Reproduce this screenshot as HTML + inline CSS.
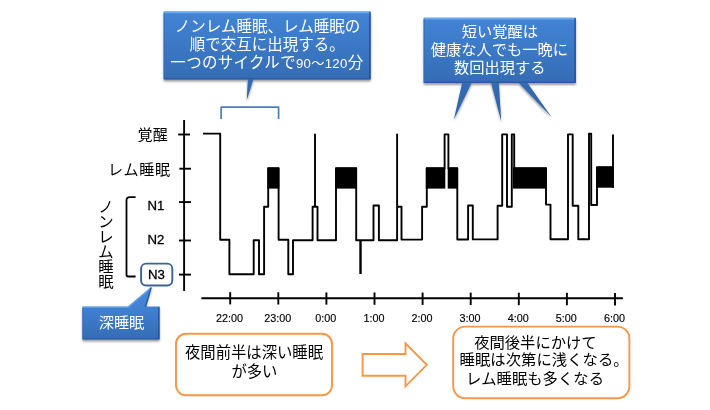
<!DOCTYPE html>
<html lang="ja"><head><meta charset="utf-8"><title>睡眠経過図</title>
<style>
html,body{margin:0;padding:0;background:#fff;}
body{width:710px;height:410px;overflow:hidden;position:relative;font-family:"Liberation Sans","Noto Sans CJK JP",sans-serif;}
svg{position:absolute;left:0;top:0;display:block}
svg text{font-family:"Liberation Sans","Noto Sans CJK JP",sans-serif;}
</style></head><body>
<svg width="710" height="410" viewBox="0 0 710 410">
<defs>
<linearGradient id="bg" x1="0" y1="0" x2="0" y2="1"><stop offset="0" stop-color="#4c8ad6"/><stop offset="1" stop-color="#2e64ad"/></linearGradient>
<linearGradient id="bg1" gradientUnits="userSpaceOnUse" x1="0" y1="12" x2="0" y2="100"><stop offset="0" stop-color="#4384d6"/><stop offset="0.76" stop-color="#346cb4"/><stop offset="1" stop-color="#2e60a6"/></linearGradient>
<linearGradient id="bg2" gradientUnits="userSpaceOnUse" x1="0" y1="17.8" x2="0" y2="121"><stop offset="0" stop-color="#4384d6"/><stop offset="0.63" stop-color="#346cb4"/><stop offset="1" stop-color="#2e60a6"/></linearGradient>
<linearGradient id="bg3" gradientUnits="userSpaceOnUse" x1="0" y1="287" x2="0" y2="339.2"><stop offset="0" stop-color="#4686d8"/><stop offset="0.37" stop-color="#4282d4"/><stop offset="1" stop-color="#346cb4"/></linearGradient>
<filter id="sh" x="-10%" y="-10%" width="130%" height="140%"><feGaussianBlur in="SourceAlpha" stdDeviation="1.2"/><feOffset dx="0.3" dy="1.8"/><feComponentTransfer><feFuncA type="linear" slope="0.4"/></feComponentTransfer><feMerge><feMergeNode/><feMergeNode in="SourceGraphic"/></feMerge></filter>
</defs>
<rect width="710" height="410" fill="#fff"/>

<!-- callout 1 -->
<g filter="url(#sh)"><path d="M163.6,11.5 H370.7 V79.5 H253.4 L246.8,99.9 L247.8,79.5 H163.6 Z" fill="url(#bg1)"/></g>
<path d="M164.1,12.4 H370.2" stroke="#68aaf0" stroke-width="1.7"/>
<path d="M164.2,13 V78.8" stroke="#2f6dc0" stroke-width="1.2" opacity=".8"/>
<path d="M369.9,12 V79" stroke="#22509a" stroke-width="1.6" opacity=".85"/>
<path d="M164,78.8 H370.3" stroke="#2a5aa2" stroke-width="1.4" opacity=".85"/>
<g fill="#fff" font-size="15.5" text-anchor="middle">
<text x="267.5" y="32.1">ノンレム睡眠、レム睡眠の</text>
<text x="267.2" y="49.7">順で交互に出現する。</text>
<text x="266.9" y="68" letter-spacing="0.3">一つのサイクルで<tspan font-size="13.2">90～120</tspan>分</text>
</g>
<!-- callout 2 -->
<g filter="url(#sh)"><path d="M423.6,17.8 H575.9 V82.9 H527.6 L551.5,116.9 L518.8,82.9 H498.9 L501.2,121.2 L491.1,82.9 H471.6 L453.9,119.6 L462.1,82.9 H423.6 Z" fill="url(#bg2)"/></g>
<path d="M424.1,18.6 H575.4" stroke="#68aaf0" stroke-width="1.7"/>
<path d="M424.2,19 V82.4" stroke="#2f6dc0" stroke-width="1.2" opacity=".8"/>
<path d="M575.1,18.2 V82.3" stroke="#22509a" stroke-width="1.6" opacity=".85"/>
<path d="M424,82.2 H575.5" stroke="#2a5aa2" stroke-width="1.4" opacity=".85"/>
<g fill="#fff" font-size="15.25" text-anchor="middle">
<text x="499.8" y="37.2">短い覚醒は</text>
<text x="499.3" y="55.3">健康な人でも一晩に</text>
<text x="499.8" y="73">数回出現する</text>
</g>
<!-- blue bracket -->
<path d="M221.1,119 V107.2 H278.6 V119" fill="none" stroke="#4a7ebb" stroke-width="1.7" stroke-linejoin="round"/>

<!-- axes -->
<g stroke="#000" stroke-width="1.9" fill="none">
<line x1="184.1" x2="184.1" y1="120" y2="290.9"/>
<line x1="178.2" x2="190" y1="134.5" y2="134.5"/><line x1="179.4" x2="191" y1="168.7" y2="168.7"/><line x1="179" x2="191" y1="202.1" y2="202.1"/><line x1="179" x2="191" y1="240.5" y2="240.5"/><line x1="179" x2="191" y1="274.6" y2="274.6"/>
<line x1="201.4" x2="622.9" y1="298.2" y2="298.2"/>
<line x1="230.2" x2="230.2" y1="292.20" y2="304.40"/><line x1="278.3" x2="278.3" y1="292.29" y2="304.52"/><line x1="326.4" x2="326.4" y1="292.38" y2="304.65"/><line x1="374.5" x2="374.5" y1="292.46" y2="304.77"/><line x1="422.6" x2="422.6" y1="292.55" y2="304.90"/><line x1="470.7" x2="470.7" y1="292.64" y2="305.02"/><line x1="518.8" x2="518.8" y1="292.72" y2="305.15"/><line x1="566.9" x2="566.9" y1="292.81" y2="305.27"/><line x1="615.0" x2="615.0" y1="292.90" y2="305.40"/>
</g>
<g font-size="10.8" fill="#000" stroke="#000" stroke-width="0.15"><text x="229.6" y="321.8" text-anchor="middle">22:00</text><text x="277.7" y="321.8" text-anchor="middle">23:00</text><text x="325.8" y="321.8" text-anchor="middle">0:00</text><text x="373.9" y="321.8" text-anchor="middle">1:00</text><text x="422.0" y="321.8" text-anchor="middle">2:00</text><text x="470.1" y="321.8" text-anchor="middle">3:00</text><text x="518.2" y="321.8" text-anchor="middle">4:00</text><text x="566.3" y="321.8" text-anchor="middle">5:00</text><text x="614.4" y="321.8" text-anchor="middle">6:00</text></g>

<!-- y labels -->
<g font-size="15.05" fill="#000">
<text x="137.6" y="140.3">覚醒</text>
<text x="107.9" y="174.6" textLength="62.2" lengthAdjust="spacing">レム睡眠</text>
</g>
<g font-size="13.2" fill="#000" stroke="#000" stroke-width="0.3" text-anchor="middle">
<text x="156" y="210.1">N1</text>
<text x="156" y="244">N2</text>
</g>
<g font-size="15.3" fill="#000" text-anchor="middle">
<text x="106" y="212.3">ノ</text>
<text x="106" y="227.3">ン</text>
<text x="106" y="242.3">レ</text>
<text x="106" y="257.3">ム</text>
<text x="106" y="272.3">睡</text>
<text x="106" y="287.3">眠</text>
</g>
<path d="M135.6,197.2 H130 Q126.5,197.2 126.5,200.5 V274.8 Q126.5,276.5 128.2,276.5 H135.6" fill="none" stroke="#000" stroke-width="1.8"/>
<rect x="141.1" y="263.6" width="31.2" height="21.9" rx="5" ry="5" fill="#fff" stroke="#3a639c" stroke-width="1.9"/>
<text x="156.4" y="279.3" font-size="13.2" text-anchor="middle" fill="#000" stroke="#000" stroke-width="0.3">N3</text>

<!-- hypnogram -->
<rect x="267.4" y="167.6" width="11.9" height="21.0" fill="#000"/><rect x="335.3" y="167.6" width="21.6" height="21.0" fill="#000"/><rect x="425.8" y="167.6" width="19.5" height="21.0" fill="#000"/><rect x="447.7" y="167.6" width="10.2" height="21.0" fill="#000"/><rect x="513" y="167.6" width="34.0" height="21.0" fill="#000"/><rect x="596.2" y="166.7" width="17.5" height="21.0" fill="#000"/>
<path d="M203,133.6 H220.2 V239.8 H229.4 V274.2 H253.7 V240.3 H259 V274.2 H264.1 V206.8 H268.2 V168.2 H278.6 V239.8 H288.3 V274.2 H293 V240.2 H312.6 V206.8 H315 V134.4 V206.8 H317.5 V240.3 H336 V168.2 H356.2 V240.3 H373.5 V205.5 H378.9 V240.2 H397.1 V134.4 V206.8 H401.5 V239.6 H422.1 V206.8 H426.8 V168.2 H444.6 V134.4 H448.4 V168.2 H457.3 V239.5 H468.1 V205.5 H472.8 V239.4 H497.6 V205.8 H502.2 V134.4 H507 V206.8 H511.8 V134.4 H514.2 V168.2 H546 V204.6 H550.5 V239.2 H568 V134.4 H572.7 V205.8 H578.3 V239.2 H589 V133.6 H591.2 V205 H597 V167.29999999999998 H613 M613,187.7 V134.4" fill="none" stroke="#000" stroke-width="1.9" stroke-linejoin="round"/>
<line x1="360.5" x2="360.5" y1="241" y2="274" stroke="#000" stroke-width="2.4"/>

<!-- deep sleep callout -->
<g filter="url(#sh)"><path d="M82.4,306.6 H128 L151.8,286.6 L146,306.6 H159.6 V339.6 H82.4 Z" fill="url(#bg3)"/></g>
<path d="M82.9,307.4 H128.2 L151.2,287.6" stroke="#62a4ec" stroke-width="1.4" opacity=".8" fill="none"/>
<path d="M83,307.7 V339.1" stroke="#2f6dc0" stroke-width="1.2" opacity=".8"/>
<path d="M158.8,307.1 V339.1 M151.1,287.8 L145.4,307" stroke="#22509a" stroke-width="1.5" opacity=".8" fill="none"/>
<path d="M82.8,338.9 H159.3" stroke="#2a5aa2" stroke-width="1.4" opacity=".85"/>
<text x="121.5" y="327.8" font-size="15.2" fill="#fff" text-anchor="middle">深睡眠</text>

<!-- orange boxes -->
<rect x="176" y="333.8" width="156" height="61.5" rx="10" ry="10" fill="#fff" stroke="#f79646" stroke-width="1.9"/>
<g font-size="15.35" fill="#000" text-anchor="middle">
<text x="254" y="358.1">夜間前半は深い睡眠</text>
<text x="254.4" y="377">が多い</text>
</g>
<path d="M362.6,354 H405.5 V343.4 L426.8,364.85 L405.5,386.3 V375.7 H362.6 Z" fill="#fff" stroke="#f79646" stroke-width="1.9" stroke-linejoin="miter"/>
<rect x="453.2" y="326.6" width="176.2" height="71.7" rx="12" ry="12" fill="#fff" stroke="#f79646" stroke-width="1.9"/>
<g font-size="15.3" fill="#000">
<text x="474.2" y="347.7" textLength="122.4" lengthAdjust="spacing">夜間後半にかけて</text>
<text x="459.6" y="365.3" textLength="169" lengthAdjust="spacing">睡眠は次第に浅くなる。</text>
<text x="466.1" y="384.3" textLength="137.9" lengthAdjust="spacing">レム睡眠も多くなる</text>
</g>
</svg>
</body></html>
